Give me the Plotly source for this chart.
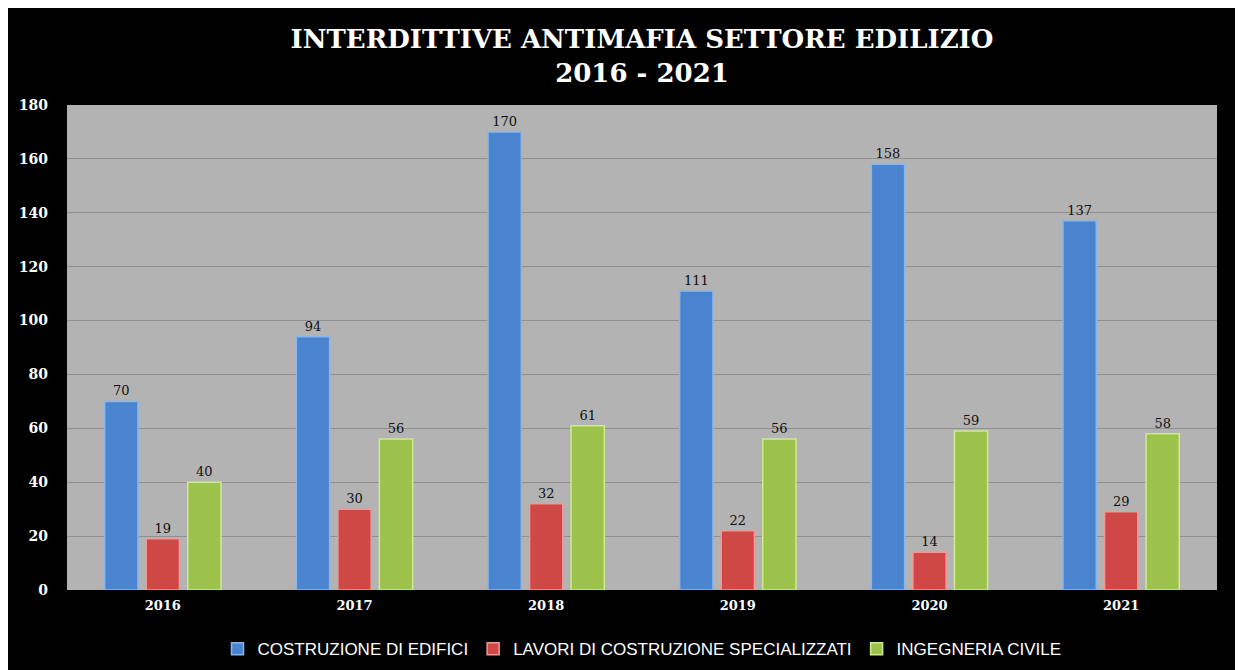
import plotly.graph_objects as go

years = ["2016", "2017", "2018", "2019", "2020", "2021"]
costruzione = [70, 94, 170, 111, 158, 137]
lavori = [19, 30, 32, 22, 14, 29]
ingegneria = [40, 56, 61, 56, 59, 58]

series = [
    ("COSTRUZIONE DI EDIFICI", costruzione, "#4a84cf", "#86b6ee"),
    ("LAVORI DI COSTRUZIONE SPECIALIZZATI", lavori, "#cf4846", "#f29896"),
    ("INGEGNERIA CIVILE", ingegneria, "#9cc24c", "#cdea90"),
]

fig = go.Figure()
for name, vals, col, edge in series:
    fig.add_trace(go.Bar(
        x=years, y=vals, name=name,
        marker=dict(color=col, line=dict(color=edge, width=1.5)),
        text=[str(v) for v in vals], textposition="outside",
        textfont=dict(family="DejaVu Serif, serif", size=13, color="#111111"),
        cliponaxis=False,
    ))

fig.update_layout(
    width=1243, height=670,
    paper_bgcolor="#000000", plot_bgcolor="#b3b3b3",
    barmode="group", bargap=0.35, bargroupgap=0.2,
    margin=dict(l=59, r=34, t=97, b=88, autoexpand=False),
    title=dict(
        text="<b>INTERDITTIVE ANTIMAFIA SETTORE EDILIZIO<br>2016 - 2021</b>",
        x=0.5, xanchor="center", xref="paper", y=0.94, yanchor="middle", yref="container",
        font=dict(family="DejaVu Serif, serif", size=26, color="white"),
    ),
    font=dict(family="DejaVu Serif, serif", color="white"),
    showlegend=True,
    legend=dict(
        orientation="h", x=0.5, xanchor="center", xref="paper",
        y=0.043, yanchor="middle", yref="container",
        font=dict(family="Liberation Sans Narrow, Arial Narrow, Liberation Sans, sans-serif", size=17, color="white"),
        bgcolor="rgba(0,0,0,0)", itemwidth=30,
    ),
    xaxis=dict(
        tickfont=dict(family="DejaVu Serif, serif", size=13, color="white"),
        ticklabelstandoff=6, showline=False, automargin=False,
        tickprefix="<b>", ticksuffix="</b>",
    ),
    yaxis=dict(
        range=[0, 180], dtick=20, automargin=False,
        tickfont=dict(family="DejaVu Serif, serif", size=14, color="white"),
        tickprefix="<b>", ticksuffix="</b>",
        gridcolor="#8f8f8f", gridwidth=1, zeroline=False,
        ticklabelstandoff=18,
    ),
)

fig.write_html("out.html")
